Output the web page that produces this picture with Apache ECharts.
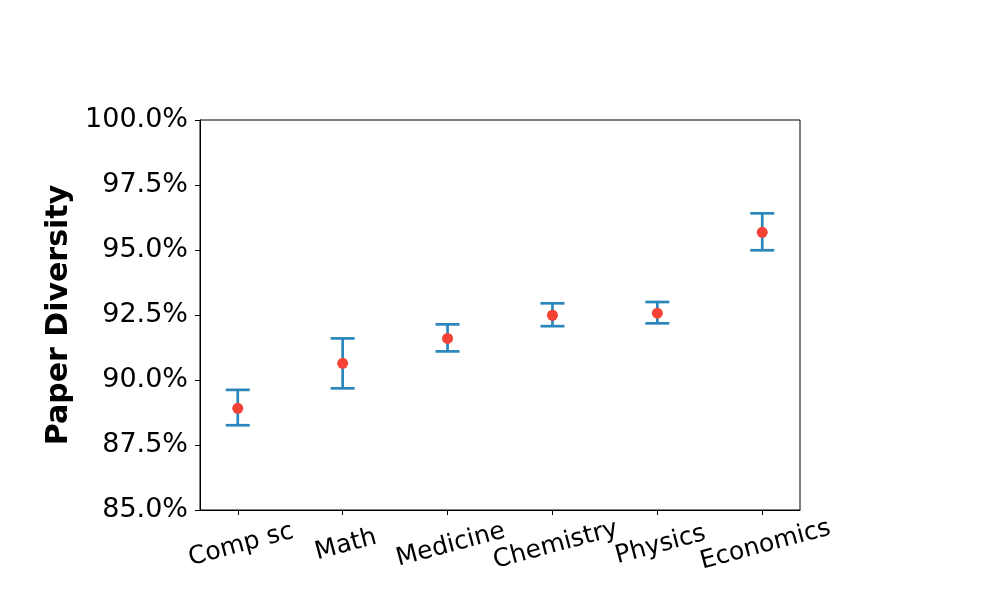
<!DOCTYPE html>
<html>
<head>
<meta charset="utf-8">
<script src="https://cdn.jsdelivr.net/npm/echarts@6/dist/echarts.min.js"></script>
<style>
  html, body { margin: 0; padding: 0; background: #fff; }
  #main { width: 1000px; height: 600px; }
</style>
</head>
<body>
<div id="main"></div>
<script>
// 数据
var categories = ['Comp sc', 'Math', 'Medicine', 'Chemistry', 'Physics', 'Economics'];
var means = [88.91, 90.64, 91.60, 92.49, 92.57, 95.68];
var lower = [88.26, 89.68, 91.10, 92.07, 92.18, 94.99];
var upper = [89.62, 91.60, 92.14, 92.95, 93.00, 96.41];
var yTicks = [85, 87.5, 90, 92.5, 95, 97.5, 100];

var chart = echarts.init(document.getElementById('main'));

var pointData = [];
var errData = [];
for (var i = 0; i < categories.length; i++) {
    pointData.push([i, means[i]]);
    errData.push([i, lower[i], upper[i]]);
}
var catIdx = categories.map(function (c, i) { return i; });

var option = {
    animation: false,
    backgroundColor: '#fff',
    textStyle: { fontFamily: 'DejaVu Sans' },
    grid: {
        left: 200, right: 200, top: 120, bottom: 90,
        show: true, borderColor: '#000', borderWidth: 1
    },
    xAxis: {
        type: 'value',
        min: -0.36,
        max: 5.36,
        splitLine: { show: false },
        axisLine: { show: true, onZero: false, lineStyle: { color: '#000', width: 1 } },
        axisTick: { show: true, customValues: catIdx, length: 5, lineStyle: { color: '#000' } },
        axisLabel: {
            show: true,
            customValues: catIdx,
            rotate: 15,
            align: 'center',
            verticalAlign: 'top',
            margin: 23,
            fontSize: 25,
            color: '#000',
            fontFamily: 'DejaVu Sans',
            formatter: function (v) { return categories[Math.round(v)]; }
        }
    },
    yAxis: {
        type: 'value',
        min: 85,
        max: 100,
        interval: 2.5,
        name: 'Paper Diversity',
        nameLocation: 'middle',
        nameGap: 124,
        nameTextStyle: { fontSize: 30, fontWeight: 'bold', color: '#000', fontFamily: 'DejaVu Sans' },
        splitLine: { show: false },
        axisLine: { show: true, onZero: false, lineStyle: { color: '#000', width: 1 } },
        axisTick: { show: true, length: 5, lineStyle: { color: '#000' } },
        axisLabel: {
            fontSize: 27,
            color: '#000',
            margin: 12,
            padding: [6, 0, 0, 0],
            fontFamily: 'DejaVu Sans',
            formatter: function (v) { return v.toFixed(1) + '%'; }
        }
    },
    series: [
        {
            type: 'custom',
            data: errData,
            z: 2,
            renderItem: function (params, api) {
                var x = api.value(0);
                var lo = api.coord([x, api.value(1)]);
                var hi = api.coord([x, api.value(2)]);
                var cap = 12;
                var style = { stroke: '#2a86bb', lineWidth: 2.7 };
                return {
                    type: 'group',
                    children: [
                        { type: 'line', shape: { x1: lo[0], y1: lo[1], x2: hi[0], y2: hi[1] }, style: style },
                        { type: 'line', shape: { x1: hi[0] - cap, y1: hi[1], x2: hi[0] + cap, y2: hi[1] }, style: style },
                        { type: 'line', shape: { x1: lo[0] - cap, y1: lo[1], x2: lo[0] + cap, y2: lo[1] }, style: style }
                    ]
                };
            }
        },
        {
            type: 'scatter',
            data: pointData,
            z: 3,
            symbol: 'circle',
            symbolSize: 11,
            itemStyle: { color: '#f44336', opacity: 1 }
        }
    ]
};

chart.setOption(option);
</script>
</body>
</html>
